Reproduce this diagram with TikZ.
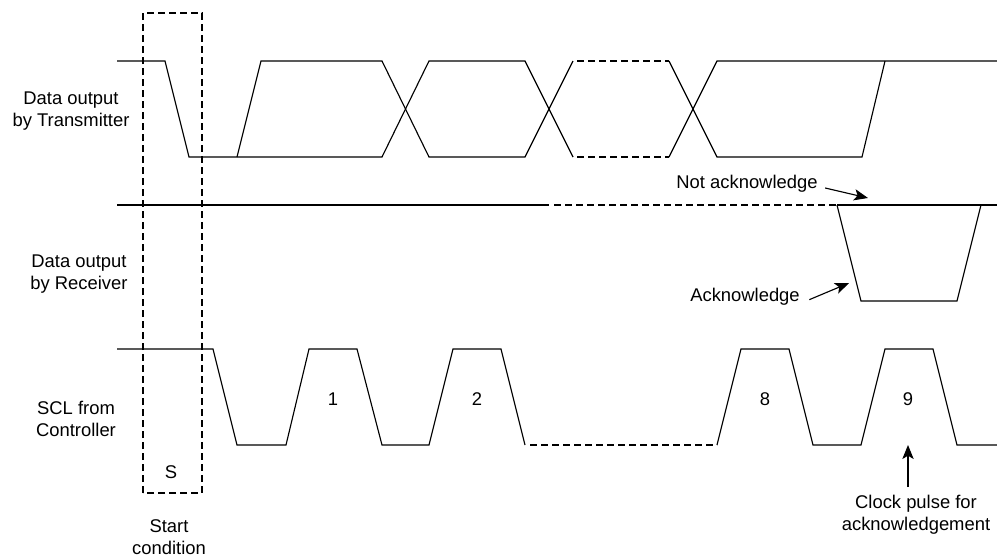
\documentclass[tikz,border=0pt]{standalone}
\usepackage{fontspec}
\setmainfont{Liberation Sans}
\usepackage{tikz}
\usetikzlibrary{arrows.meta,positioning}

\begin{document}
\begin{tikzpicture}[
  x=0.75pt, y=-0.75pt,
  font=\fontsize{13.8}{16.5}\selectfont,
  wave/.style={line width=0.85pt, line join=miter},
  gap/.style={wave, dash pattern=on 5.25pt off 3pt},
  lbl/.style={align=center, inner sep=1pt},
  arr/.style={-{Stealth[length=10.5pt, width=8.5pt, inset=2.5pt]}, line width=0.85pt},
]
\useasboundingbox (0,0) rectangle (997,554);
% ---------- signal names ----------
\node[lbl] (tx)  at (71,111) {Data output\\by Transmitter};
\node[lbl] (rx)  at (79,274) {Data output\\by Receiver};
\node[lbl] (scl) at (76,419) {SCL from\\Controller};
% ---------- start condition ----------
\draw[gap] (143,493) rectangle (202,13);
\node[lbl] (s) at (171,472) {S};
\node[lbl] (start) at (169,537) {Start\\condition};
% ---------- data output by transmitter ----------
\draw[wave] (117,61) -- (165,61) -- (189,157) -- (382,157) -- (429,61) -- (525,61) -- (573,157);
\draw[wave] (237,157) -- (261,61) -- (382,61) -- (429,157) -- (525,157) -- (573,61);
\draw[gap] (577,61) -- (669,61);
\draw[gap] (577,157) -- (669,157);
\draw[wave] (669,61) -- (717,157) -- (862,157) -- (885,61);
\draw[wave] (669,157) -- (717,61) -- (997,61);
% ---------- data output by receiver ----------
\draw[wave] (117,205) -- (549,205);
\draw[gap] (554,205) -- (837,205);
\draw[wave] (837,205) -- (997,205);
\draw[wave] (837,205) -- (861,301) -- (957,301) -- (981,205);
\node[lbl] (nack) at (747,184) {Not acknowledge};
\node[lbl] (ack)  at (745,297) {Acknowledge};
\coordinate (nacktip) at (868,198);
\coordinate (acktip) at (849,283);
\draw[arr] ([xshift=4.5pt, yshift=-3pt]nack.east) -- (nacktip);
\draw[arr] ([xshift=6pt, yshift=-2pt]ack.east) -- (acktip);
% ---------- SCL from controller ----------
\draw[wave] (117,349) -- (213,349) -- (237,445) -- (286,445) -- (309,349) -- (357,349)
  -- (382,445) -- (429,445) -- (453,349) -- (501,349) -- (525,445);
\draw[gap] (530,445) -- (717,445);
\draw[wave] (717,445) -- (741,349) -- (789,349) -- (813,445) -- (861,445) -- (885,349)
  -- (933,349) -- (957,445) -- (997,445);
\foreach \n/\x in {1/333, 2/477, 8/765, 9/908}{
  \node[lbl] (bit\n) at (\x,399) {\n};
}
\node[lbl] (clk) at (916,515) {Clock pulse for\\acknowledgement};
\coordinate (clktip) at (908,445);
\draw[arr] ([yshift=5pt]clk.north -| clktip) -- (clktip);
\end{tikzpicture}
\end{document}
